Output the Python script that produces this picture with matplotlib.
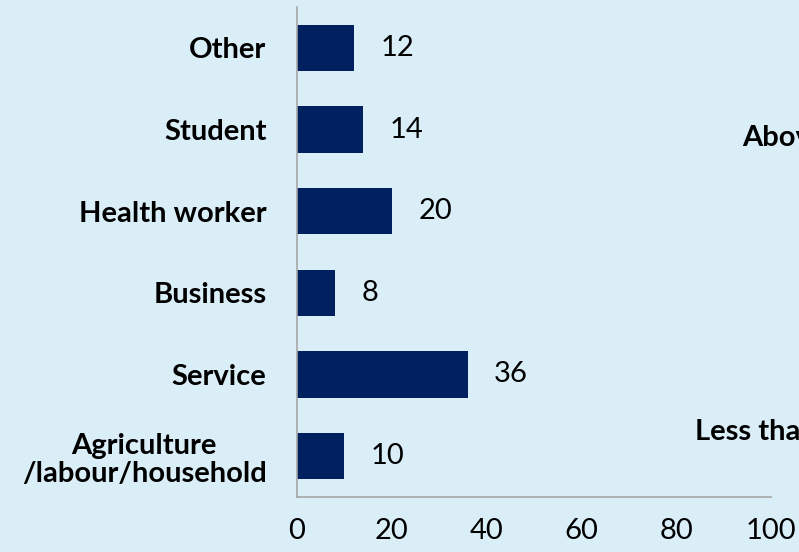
import matplotlib.pyplot as plt

occupations = ["Agriculture\n/labour/household", "Service", "Business",
               "Health worker", "Student", "Other"]
percent = [10, 36, 8, 20, 14, 12]
xticks = [0, 20, 40, 60, 80, 100]

bg = "#DAEEF8"
navy = "#002060"

plt.rcParams["font.family"] = ["Lato", "DejaVu Sans"]

fig = plt.figure(figsize=(7.99, 5.52), dpi=100, facecolor=bg)
ax = fig.add_axes([297 / 799, 55 / 552, 474 / 799, 490 / 552])
ax.set_facecolor(bg)

ypos = range(len(occupations))
ax.barh(ypos, percent, height=0.57, color=navy)
for y, v in zip(ypos, percent):
    ax.annotate(str(v), (v, y), xytext=(19, 0), textcoords="offset points",
                va="center", ha="left", fontsize=21, color="black")

ax.set_xlim(0, 100)
ax.set_ylim(-0.5, 5.5)
ax.set_yticks(list(ypos))
ax.set_yticklabels(occupations, fontsize=21, fontweight="bold",
                   ha="right", multialignment="center", linespacing=1.1)
ax.tick_params(axis="y", length=0, pad=22)
ax.set_xticks(xticks)
ax.set_xticklabels([str(t) for t in xticks], fontsize=21)
ax.tick_params(axis="x", length=0, pad=15)

for s in ["top", "right"]:
    ax.spines[s].set_visible(False)
for s in ["left", "bottom"]:
    ax.spines[s].set_color("#A6A6A6")
    ax.spines[s].set_linewidth(1.2)

# labels of the neighbouring panel, running off the right edge
fig.text(742 / 799, 1 - 138 / 552, "Above 60", fontsize=21, fontweight="bold",
         va="center", ha="left")
fig.text(695 / 799, 1 - 432 / 552, "Less than 20", fontsize=21, fontweight="bold",
         va="center", ha="left")

fig.savefig("out.png", dpi=100, facecolor=bg)
